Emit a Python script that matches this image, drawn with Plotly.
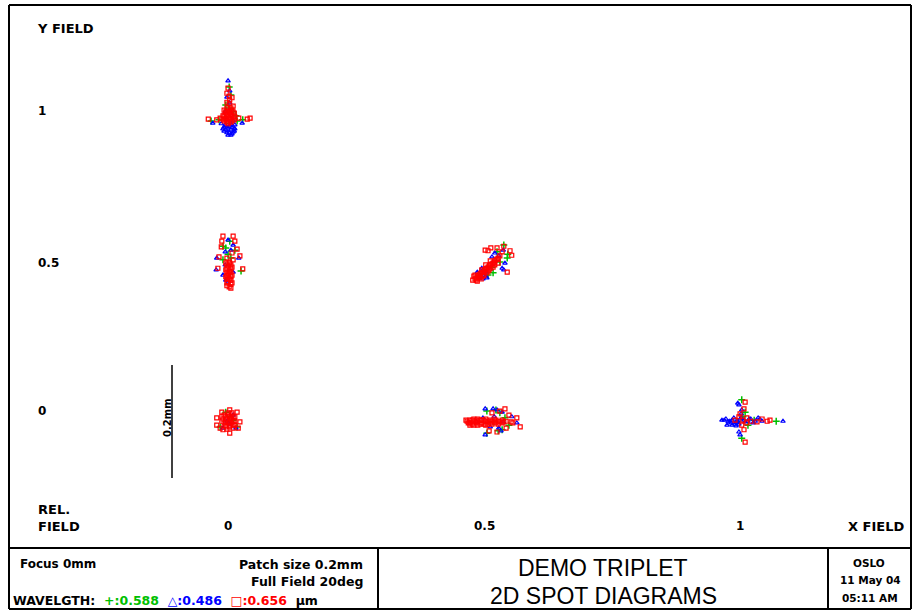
import plotly.graph_objects as go

# ---------------- data ----------------
# relative field positions of the six spot diagrams
field_x = [0, 0, 0, 0.5, 0.5, 1]
field_y = [1, 0.5, 0, 0.5, 0, 0]

x_tick_vals = [0, 0.5, 1]
x_tick_text = ["0", "0.5", "1"]
y_tick_vals = [1, 0.5, 0]
y_tick_text = ["1", "0.5", "0"]

wavelengths = ["0.588", "0.486", "0.656"]
wave_names = ["green", "blue", "red"]

# ray intercept offsets (dx, dy) in micrometres, one list per field point
green_um = [
    [(-5, 46), (-2, 32), (-11, 14), (-37, -14), (19, -12), (2, 2), (-12, -9), (7, -5), (-5, 9), (-23, -12), (9, -14), (-4, -18)],
    [(-4, 44), (-16, 35), (-7, 21), (-16, 11), (16, -9), (5, 28), (-2, 14), (-11, 32)],
    [(-21, -14), (9, -14), (-4, 5), (-11, 12), (2, -2)],
    [(28, 37), (35, 21), (34, 14), (9, -12), (0, -16), (7, -2), (16, 25), (21, 7)],
    [(-2, 14), (21, 11), (25, -19), (30, 2), (-2, -25), (9, -5), (37, -11), (14, 16), (18, -21)],
    [(-4, 34), (-4, -34), (57, -4), (-2, 4), (7, -11), (-12, -5), (18, -2), (2, 12)],
]
blue_um = [
    [(-7, 57), (-4, 39), (-9, 28), (-4, 18), (-12, 2), (-19, -19), (-34, -18), (18, -18), (-12, -21), (-4, -23),
     (4, -27), (-11, -30), (-5, -34), (0, -37), (-14, -25), (-7, -39), (2, -14), (-9, -11), (-2, -30), (5, -21),
     (-14, -32), (-9, -35), (2, -34), (-2, -39), (0, -25), (-7, -27), (4, -32), (-16, -28), (5, -28), (-9, -25), (-2, -20)],
    [(-7, 46), (2, 37), (-12, 25), (-27, 14), (12, 14), (-28, -7), (-16, -16), (-7, -28), (-2, 28), (-12, 2), (2, -11), (-11, -25)],
    [(-16, -16), (7, -16), (2, 7), (-9, -4), (-4, -9)],
    [(27, 28), (12, 23), (30, 5), (28, -7), (25, -4), (-11, -4), (-5, -11), (-14, -16), (-2, -21), (-19, -11), (-9, -23),
     (7, 16), (19, 18), (-12, -18), (-7, -14), (-16, -20), (-4, -18), (-9, -7)],
    [(-5, 18), (16, 16), (25, 12), (-9, 2), (4, -14), (19, -16), (-5, -28), (42, 4), (51, -7), (27, -5), (-21, -4), (11, 4),
     (9, 18), (23, -21)],
    [(-39, -2), (-32, 0), (-25, -4), (-30, -11), (-21, -11), (-18, 2), (-11, -4), (-5, 2), (2, -5), (9, 0), (16, -7),
     (25, 2), (32, -4), (69, -4), (-11, 28), (-9, 25), (-4, 16), (-7, -28), (-9, -23), (-14, -12), (-5, 9),
     (-35, -2), (-28, -5), (-21, -2), (-14, -5), (-7, 0), (0, -2), (7, -4), (12, 0), (20, -4), (28, 0), (-23, -7),
     (-16, -9), (-9, -9)],
]
red_um = [
    [(-7, 44), (-9, 35), (0, 27), (-9, 19), (2, 12), (-5, 16), (-42, -11), (-27, -12), (-21, -9), (12, -9), (27, -11),
     (32, -9), (-14, 5), (-7, 5), (0, 5), (-11, 0), (-4, 0), (4, 0), (-14, -5), (-7, -5), (0, -5), (5, -7), (-11, -11),
     (-4, -11), (4, -12), (-9, -16), (-2, -16), (-16, -11), (-5, 30), (-4, 23),
     (-11, 2), (-4, 2), (2, 2), (-11, -9), (-4, -9), (2, -9), (-14, -14), (-7, -14), (0, -14), (-9, 9), (-2, 9),
     (-7, -19), (-2, -2), (-9, -2), (-16, -5)],
    [(-16, 53), (2, 53), (-18, 44), (5, 44), (-19, 34), (9, 30), (-23, 16), (0, 23), (14, 18), (-9, 14), (-25, -4),
     (19, -5), (-11, 5), (-4, 5), (-7, 0), (0, -2), (-11, -7), (-4, -9), (-7, -14), (0, -16), (-11, -19), (-4, -23),
     (-7, -28), (0, -30), (-9, -35), (-2, -39), (-5, 7), (2, 11),
     (-9, 2), (-2, 2), (-9, -4), (-2, -5), (-9, -11), (-2, -12), (-9, -17), (-2, -19), (-9, -23), (-2, -25),
     (-9, -30), (-2, -32), (-5, -37), (-7, -21), (-5, -10)],
    [(-18, 12), (-4, 16), (9, 12), (-27, 2), (14, -5), (-27, -11), (11, -16), (-16, -19), (-4, -25), (-21, -16),
     (-14, 7), (-7, 7), (0, 7), (5, 4), (-16, 0), (-9, 0), (-2, 0), (5, -4), (-14, -7), (-7, -7), (0, -7), (5, -11),
     (-11, -14), (-4, -14), (2, -16),
     (-11, 4), (-4, 4), (2, 4), (-11, -4), (-4, -4), (2, -4), (-11, -11), (-4, -11), (2, -11), (-18, -4), (-18, 4),
     (-7, 11), (0, 11), (-9, -18)],
    [(-27, -25), (-21, -21), (-18, -18), (-14, -14), (-9, -11), (-5, -7), (-2, -4), (2, 0), (7, 4), (11, 7), (14, 11),
     (18, 14), (21, 18), (-19, -27), (-12, -23), (-7, -16), (0, -9), (5, -4), (12, 2), (-11, -7), (-4, 2), (4, 9),
     (-25, -18), (-5, 28), (5, 32), (16, 32), (39, 27), (25, 25), (0, 27), (34, -11), (18, 5), (28, 35), (42, 19),
     (-23, -23), (-16, -16), (-12, -12), (-7, -9), (-4, -5), (0, -2), (4, 2), (9, 5), (12, 9), (16, 12), (-16, -21),
     (-9, -18), (-2, -12), (2, -7), (9, -2), (-21, -25), (-14, -20), (-23, -16)],
    [(-37, -4), (-32, -2), (-32, -7), (-25, 0), (-25, -5), (-25, -11), (-18, 0), (-18, -5), (-18, -11), (-11, -2),
     (-11, -7), (-4, 0), (-4, -5), (-4, -11), (4, -2), (4, -7), (11, 0), (11, -5), (18, -4), (18, -9), (25, -2),
     (25, -7), (32, -4), (51, 2), (57, -14), (44, -7), (7, 11), (30, 18), (37, 7), (16, -23), (32, -16), (41, -5),
     (-35, -7), (-28, -2), (-28, -9), (-21, -2), (-21, -7), (-14, -2), (-14, -9), (-7, -2), (-7, -9), (0, -4),
     (0, -9), (7, -4), (7, -9), (14, -2), (14, -7), (21, -5), (28, -5), (-39, -2), (-32, -11), (21, 14), (2, -21)],
    [(2, 30), (2, -41), (-16, -2), (-9, 4), (-2, -2), (5, 2), (5, -7), (12, -4), (23, -5), (32, 0), (41, -4), (46, -2),
     (-4, -11), (-7, 9), (0, 18), (0, -19)],
]

scale_bar_mm = 0.2

# ---------------- layout constants ----------------
W, H = 914, 611
X0PX, XSCALE = 232.0, 512.0   # pixel of field x=0, pixels per unit field
Y0PX, YSCALE = 419.0, 306.0   # pixel (from top) of field y=0, pixels per unit field
PX_PER_MM = 565.0             # spot-diagram magnification

x_range = [(0 - X0PX) / XSCALE, (W - X0PX) / XSCALE]
y_range = [(Y0PX - H) / YSCALE, Y0PX / YSCALE]

COLORS = {"green": "#00c000", "blue": "#0000ff", "red": "#ff0000"}
SYMBOLS = {"green": "cross-thin", "blue": "triangle-up-open", "red": "square-open"}
SIZES = {"green": 5, "blue": 4, "red": 4}
WIDTHS = {"green": 1.5, "blue": 1.2, "red": 1.2}

fig = go.Figure()

for name, spots in zip(wave_names, [green_um, blue_um, red_um]):
    xs, ys = [], []
    for fx, fy, pts in zip(field_x, field_y, spots):
        for dx, dy in pts:
            xs.append(fx + dx / 1000.0 * PX_PER_MM / XSCALE)
            ys.append(fy + dy / 1000.0 * PX_PER_MM / YSCALE)
    fig.add_trace(go.Scatter(
        x=xs, y=ys, mode="markers", name=name, hoverinfo="skip",
        marker=dict(symbol=SYMBOLS[name], size=SIZES[name], color=COLORS[name],
                    line=dict(color=COLORS[name], width=WIDTHS[name])),
    ))

# scale bar (0.2 mm)
bar_x = (172 - X0PX) / XSCALE
bar_c = (Y0PX - 421.5) / YSCALE
half = scale_bar_mm / 2 * PX_PER_MM / YSCALE
fig.add_trace(go.Scatter(x=[bar_x, bar_x], y=[bar_c - half, bar_c + half], mode="lines",
                         line=dict(color="black", width=1.5), hoverinfo="skip"))


def px(x, y):
    return x / W, 1 - y / H


shapes = []
def line(x0, y0, x1, y1, w=2):
    a = px(x0, y0)
    b = px(x1, y1)
    shapes.append(dict(type="line", xref="paper", yref="paper", x0=a[0], y0=a[1], x1=b[0], y1=b[1],
                       line=dict(color="black", width=w)))

# outer frame and title block
line(9, 5, 911, 5)
line(9, 5, 9, 609)
line(911, 5, 911, 609)
line(9, 609, 911, 609)
line(9, 548, 911, 548)
line(378, 548, 378, 609)
line(828, 548, 828, 609)

ann = []
SMALL = dict(family="DejaVu Sans", size=12, color="black")
LABEL = dict(family="DejaVu Sans", size=13, color="black")
def text(x, y, s, anchor="left", font=None, **kw):
    p = px(x, y)
    ann.append(dict(x=p[0], y=p[1], xref="paper", yref="paper", text=s, showarrow=False,
                    xanchor=anchor, yanchor="middle", font=font or SMALL, **kw))

text(35, 29, "<b>Y FIELD</b>", font=LABEL)
text(36, 509, "<b>REL.</b>", font=LABEL)
text(36, 526, "<b>FIELD</b>", font=LABEL)
text(846, 526, "<b>X FIELD</b>", font=LABEL)

for v, t in zip(x_tick_vals, x_tick_text):
    ann.append(dict(x=v, y=1 - 526 / H, xref="x", yref="paper", text="<b>" + t + "</b>", showarrow=False,
                    xanchor="center", yanchor="middle", xshift=-4, font=SMALL))
y_label_shift = [2, 3, 8]
for v, t, s in zip(y_tick_vals, y_tick_text, y_label_shift):
    ann.append(dict(x=36 / W, y=v, xref="paper", yref="y", text="<b>" + t + "</b>", showarrow=False,
                    xanchor="left", yanchor="middle", yshift=s, font=SMALL))

text(167, 418, "<b>0.2mm</b>", anchor="center", textangle=-90,
     font=dict(family="DejaVu Sans", size=10, color="black"))

text(18, 564, "<b>Focus 0mm</b>")
text(365, 564, "<b>Patch size 0.2mm</b>", anchor="right", font=dict(family="DejaVu Sans", size=12.5, color="black"))
text(365, 581, "<b>Full Field 20deg</b>", anchor="right", font=dict(family="DejaVu Sans", size=12.5, color="black"))
wl = ("<b>WAVELGTH:&nbsp;&nbsp;"
      "<span style='color:#00c000'>+:%s</span>&nbsp;&nbsp;"
      "<span style='color:#0000ff'>&#9651;:%s</span>&nbsp;&nbsp;"
      "<span style='color:#ff0000'>&#9633;:%s</span>&nbsp;&nbsp;&#956;m</b>") % tuple(wavelengths)
text(11, 600, wl, font=dict(family="DejaVu Sans", size=12.5, color="black"))

TITLE = dict(family="Liberation Sans", size=23, color="black")
text(603, 568, "DEMO TRIPLET", anchor="center", font=TITLE)
text(603, 596, "2D SPOT DIAGRAMS", anchor="center", font=TITLE)

RB = dict(family="DejaVu Sans", size=10.5, color="black")
text(869, 563, "<b>OSLO</b>", anchor="center", font=RB)
text(870, 580, "<b>11 May 04</b>", anchor="center", font=RB)
text(870, 598, "<b>05:11 AM</b>", anchor="center", font=RB)

fig.update_layout(
    width=W, height=H, margin=dict(l=0, r=0, t=0, b=0),
    paper_bgcolor="white", plot_bgcolor="white", showlegend=False,
    xaxis=dict(range=x_range, visible=False, fixedrange=True, domain=[0, 1]),
    yaxis=dict(range=y_range, visible=False, fixedrange=True, domain=[0, 1]),
    shapes=shapes, annotations=ann,
)

fig.write_html("out.html", config={"displayModeBar": False},
               post_script="document.body.style.margin='0';document.body.style.overflow='hidden';")
